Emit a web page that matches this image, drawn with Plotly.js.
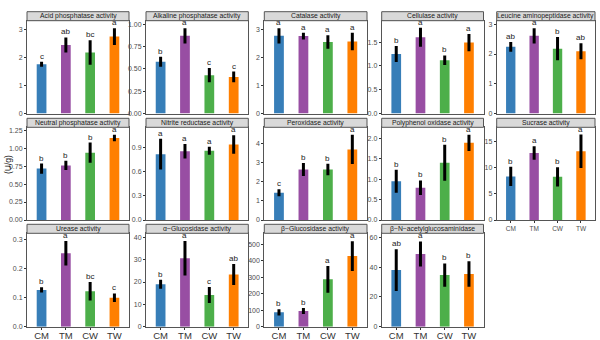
<!DOCTYPE html>
<html>
<head>
<meta charset="utf-8">
<script src="https://cdn.plot.ly/plotly-3.0.1.min.js"></script>
<style>html,body{margin:0;padding:0;background:#fff}#chart{width:600px;height:340px}</style>
</head>
<body>
<div id="chart"></div>
<script>
// ---------- DATA ----------
const categories = ['CM', 'TM', 'CW', 'TW'];
const groupColors = ['#377EB8', '#984EA3', '#4DAF4A', '#FF7F00'];

const panelTitles = [
  'Acid phosphatase activity', 'Alkaline phosphatase activity', 'Catalase activity',
  'Cellulase activity', 'Leucine aminopeptidase activity',
  'Neutral phosphatase activity', 'Nitrite reductase activity', 'Peroxidase activity',
  'Polyphenol oxidase activity', 'Sucrase activity',
  'Urease activity', 'α−Glucosidase activity', 'β−Glucosidase activity', 'β−N−acetylglucosaminidase'
];

const acidMean = [1.77, 2.46, 2.19, 2.76];
const acidSd = [0.09, 0.27, 0.44, 0.30];
const acidLetters = ['c', 'ab', 'bc', 'a'];

const alkalineMean = [0.58, 0.87, 0.43, 0.41];
const alkalineSd = [0.055, 0.085, 0.08, 0.06];
const alkalineLetters = ['b', 'a', 'c', 'c'];

const catalaseMean = [2.77, 2.76, 2.55, 2.57];
const catalaseSd = [0.27, 0.12, 0.24, 0.31];
const catalaseLetters = ['a', 'a', 'a', 'a'];

const cellulaseMean = [1.25, 1.60, 1.12, 1.49];
const cellulaseSd = [0.17, 0.20, 0.10, 0.18];
const cellulaseLetters = ['b', 'a', 'b', 'a'];

const leucineMean = [2.24, 2.61, 2.18, 2.09];
const leucineSd = [0.16, 0.26, 0.39, 0.27];
const leucineLetters = ['ab', 'a', 'b', 'ab'];

const neutralMean = [0.715, 0.76, 0.937, 1.14];
const neutralSd = [0.07, 0.065, 0.14, 0.045];
const neutralLetters = ['b', 'b', 'b', 'a'];

const nitriteMean = [0.82, 0.855, 0.863, 0.94];
const nitriteSd = [0.19, 0.09, 0.05, 0.115];
const nitriteLetters = ['a', 'a', 'a', 'a'];

const peroxidaseMean = [1.42, 2.63, 2.63, 3.67];
const peroxidaseSd = [0.18, 0.34, 0.30, 0.76];
const peroxidaseLetters = ['c', 'b', 'b', 'a'];

const polyphenolMean = [0.95, 0.79, 1.40, 1.89];
const polyphenolSd = [0.28, 0.18, 0.44, 0.20];
const polyphenolLetters = ['b', 'b', 'b', 'a'];

const sucraseMean = [8.36, 12.86, 8.3, 13.2];
const sucraseSd = [1.85, 1.3, 1.85, 3.2];
const sucraseLetters = ['b', 'a', 'b', 'a'];

const ureaseMean = [0.127, 0.254, 0.123, 0.100];
const ureaseSd = [0.009, 0.042, 0.032, 0.015];
const ureaseLetters = ['b', 'a', 'bc', 'c'];

const alphaGlucMean = [19.0, 30.6, 14.2, 23.4];
const alphaGlucSd = [2.0, 7.7, 3.6, 4.7];
const alphaGlucLetters = ['b', 'a', 'c', 'ab'];

const betaGlucMean = [87, 95, 287, 428];
const betaGlucSd = [19, 18, 81, 90];
const betaGlucLetters = ['b', 'b', 'a', 'a'];

const betaNagMean = [38.0, 48.8, 34.7, 35.4];
const betaNagSd = [14.0, 8.4, 7.8, 8.6];
const betaNagLetters = ['ab', 'a', 'b', 'b'];

const panelMeans = [acidMean, alkalineMean, catalaseMean, cellulaseMean, leucineMean,
  neutralMean, nitriteMean, peroxidaseMean, polyphenolMean, sucraseMean,
  ureaseMean, alphaGlucMean, betaGlucMean, betaNagMean];
const panelSds = [acidSd, alkalineSd, catalaseSd, cellulaseSd, leucineSd,
  neutralSd, nitriteSd, peroxidaseSd, polyphenolSd, sucraseSd,
  ureaseSd, alphaGlucSd, betaGlucSd, betaNagSd];
const panelLetters = [acidLetters, alkalineLetters, catalaseLetters, cellulaseLetters, leucineLetters,
  neutralLetters, nitriteLetters, peroxidaseLetters, polyphenolLetters, sucraseLetters,
  ureaseLetters, alphaGlucLetters, betaGlucLetters, betaNagLetters];

// ---------- LAYOUT CONFIG ----------
const yTop = [3.33, 1.04, 3.31, 1.95, 3.12, 1.29, 1.154, 4.82, 2.27, 17.8, 0.323, 41.8, 566, 62.7];
const yDtick = [1, 0.25, 1, 0.5, 1, 0.25, 0.3, 1, 0.5, 5, 0.1, 10, 100, 20];
const yFormat = ['d', '.2f', 'd', '.1f', 'd', '.2f', '.1f', 'd', '.1f', 'd', '.1f', 'd', 'd', 'd'];

const W = 600, H = 340;
const colX = [[27, 129], [146, 248.3], [264.3, 367], [381.7, 483.5], [496.7, 595]];
const rowY = [[20.7, 113.5], [127.3, 220], [233.3, 326.7]];
const stripH = 9;
const FONT = '"Liberation Sans", Arial, sans-serif';
const BORDER = '#555555';

const traces = [];
const layout = {
  width: W, height: H,
  margin: {l: 0, r: 0, t: 0, b: 0},
  paper_bgcolor: '#ffffff', plot_bgcolor: '#ffffff',
  showlegend: false,
  font: {family: FONT, size: 7, color: '#4d4d4d'},
  shapes: [], annotations: []
};

panelTitles.forEach((title, i) => {
  const row = Math.floor(i / 5), col = i % 5;
  const n = i + 1;
  const xs = n === 1 ? '' : String(n);
  const [x0, x1] = colX[col];
  const [y0, y1] = rowY[row];
  const showX = row === 2 || (row === 1 && col === 4);
  const bigX = row === 2;

  traces.push({
    type: 'bar',
    x: categories,
    y: panelMeans[i],
    width: 0.4,
    marker: {color: groupColors, line: {width: 0}},
    error_y: {type: 'data', array: panelSds[i], visible: true, thickness: 3, width: 0, color: '#000000'},
    xaxis: 'x' + xs, yaxis: 'y' + xs,
    hoverinfo: 'skip'
  });

  layout['xaxis' + xs] = {
    domain: [x0 / W, x1 / W],
    anchor: 'y' + xs,
    type: 'category',
    categoryorder: 'array', categoryarray: categories,
    range: [-0.6, 3.6],
    showline: true, mirror: true, linecolor: BORDER, linewidth: 1,
    showgrid: false, zeroline: false,
    showticklabels: showX,
    ticks: showX ? 'outside' : '', ticklen: 2, tickcolor: '#333333',
    ticklabelstandoff: bigX ? -2 : 0,
    tickfont: {family: FONT, size: bigX ? 9.5 : 6.5, color: bigX ? '#333333' : '#4d4d4d'},
    fixedrange: true
  };
  layout['yaxis' + xs] = {
    domain: [1 - y1 / H, 1 - y0 / H],
    anchor: 'x' + xs,
    range: [0, yTop[i]],
    dtick: yDtick[i], tick0: 0, tickformat: yFormat[i],
    showline: true, mirror: true, linecolor: BORDER, linewidth: 1,
    showgrid: false, zeroline: false,
    ticks: 'outside', ticklen: 2, tickcolor: '#333333',
    tickfont: {family: FONT, size: 7, color: '#4d4d4d'},
    fixedrange: true
  };

  // strip
  layout.shapes.push({
    type: 'rect', xref: 'paper', yref: 'paper',
    x0: x0 / W, x1: x1 / W,
    y0: 1 - y0 / H, y1: 1 - (y0 - stripH) / H,
    fillcolor: '#d9d9d9', line: {color: BORDER, width: 1}
  });
  layout.annotations.push({
    xref: 'paper', yref: 'paper',
    x: (x0 + x1) / 2 / W, y: 1 - (y0 - stripH / 2) / H,
    xanchor: 'center', yanchor: 'middle',
    text: title, showarrow: false,
    font: {family: FONT, size: 6.8, color: '#1a1a1a'}
  });

  // significance letters
  categories.forEach((c, k) => {
    layout.annotations.push({
      xref: 'x' + xs, yref: 'y' + xs,
      x: c, y: panelMeans[i][k] + panelSds[i][k],
      xanchor: 'center', yanchor: 'bottom', yshift: -1,
      text: panelLetters[i][k], showarrow: false,
      font: {family: FONT, size: 8, color: '#1a1a1a'}
    });
  });
});

// y-axis title
layout.annotations.push({
  xref: 'paper', yref: 'paper',
  x: 8 / W, y: 1 - 165 / H,
  xanchor: 'center', yanchor: 'middle',
  text: '(U/g)', textangle: -90, showarrow: false,
  font: {family: FONT, size: 8.5, color: '#1a1a1a'}
});

Plotly.newPlot('chart', traces, layout, {staticPlot: true, displayModeBar: false});
</script>
</body>
</html>
